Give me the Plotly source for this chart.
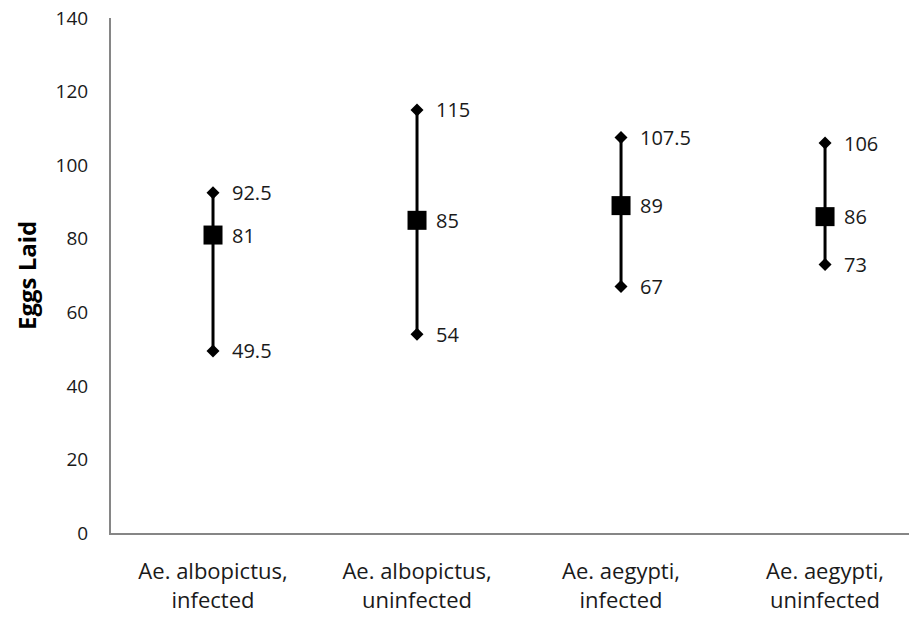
import plotly.graph_objects as go

categories = ["Ae. albopictus,<br>infected", "Ae. albopictus,<br>uninfected",
              "Ae. aegypti,<br>infected", "Ae. aegypti,<br>uninfected"]
mean_vals = [81, 85, 89, 86]
low_vals = [49.5, 54, 67, 73]
high_vals = [92.5, 115, 107.5, 106]
y_ticks = [0, 20, 40, 60, 80, 100, 120, 140]

FONT = "Open Sans"
TXT = "#1a1a1a"
pos = list(range(len(categories)))

fig = go.Figure()

# vertical range lines
lx, ly = [], []
for i in pos:
    lx += [i, i, None]
    ly += [low_vals[i], high_vals[i], None]
fig.add_trace(go.Scatter(x=lx, y=ly, mode="lines",
                         line=dict(color="black", width=3), hoverinfo="skip"))

# min / max diamonds
fig.add_trace(go.Scatter(x=pos + pos, y=low_vals + high_vals, mode="markers",
                         marker=dict(symbol="diamond", size=10, color="black")))
# mean squares
fig.add_trace(go.Scatter(x=pos, y=mean_vals, mode="markers",
                         marker=dict(symbol="square", size=19, color="black")))

def fmt(v):
    return str(int(v)) if v == int(v) else str(v)

for i in pos:
    for v in (low_vals[i], mean_vals[i], high_vals[i]):
        fig.add_annotation(x=i, y=v, text=fmt(v), showarrow=False,
                           xanchor="left", xshift=17,
                           font=dict(family=FONT, size=20, color=TXT))

# y title (left edge of the figure)
fig.add_annotation(xref="paper", yref="paper", x=-0.1265, y=0.5,
                   text="<b>Eggs Laid</b>", textangle=-90, showarrow=False,
                   xanchor="left", yanchor="middle",
                   font=dict(family=FONT, size=24, color="black"))

fig.update_layout(
    width=917, height=623,
    margin=dict(l=103, r=0, t=10, b=98),
    plot_bgcolor="white", paper_bgcolor="white",
    showlegend=False,
    font=dict(family=FONT, size=20, color=TXT),
)
fig.update_xaxes(
    tickmode="array", tickvals=pos, ticktext=categories,
    range=[-0.5, 3.49], showgrid=False, zeroline=False,
    showline=True, linecolor="#868686", linewidth=2,
    ticks="", ticklabelstandoff=18, automargin=False,
    ticklabeloverflow="allow",
    tickfont=dict(family=FONT, size=22),
)
fig.update_yaxes(
    range=[0, 140], tickvals=y_ticks, showgrid=False, zeroline=False,
    showline=True, linecolor="#868686", linewidth=2,
    ticks="", ticklabelstandoff=17, automargin=False,
    ticklabeloverflow="allow",
    tickfont=dict(family=FONT, size=19),
)

fig.write_html("out.html")
